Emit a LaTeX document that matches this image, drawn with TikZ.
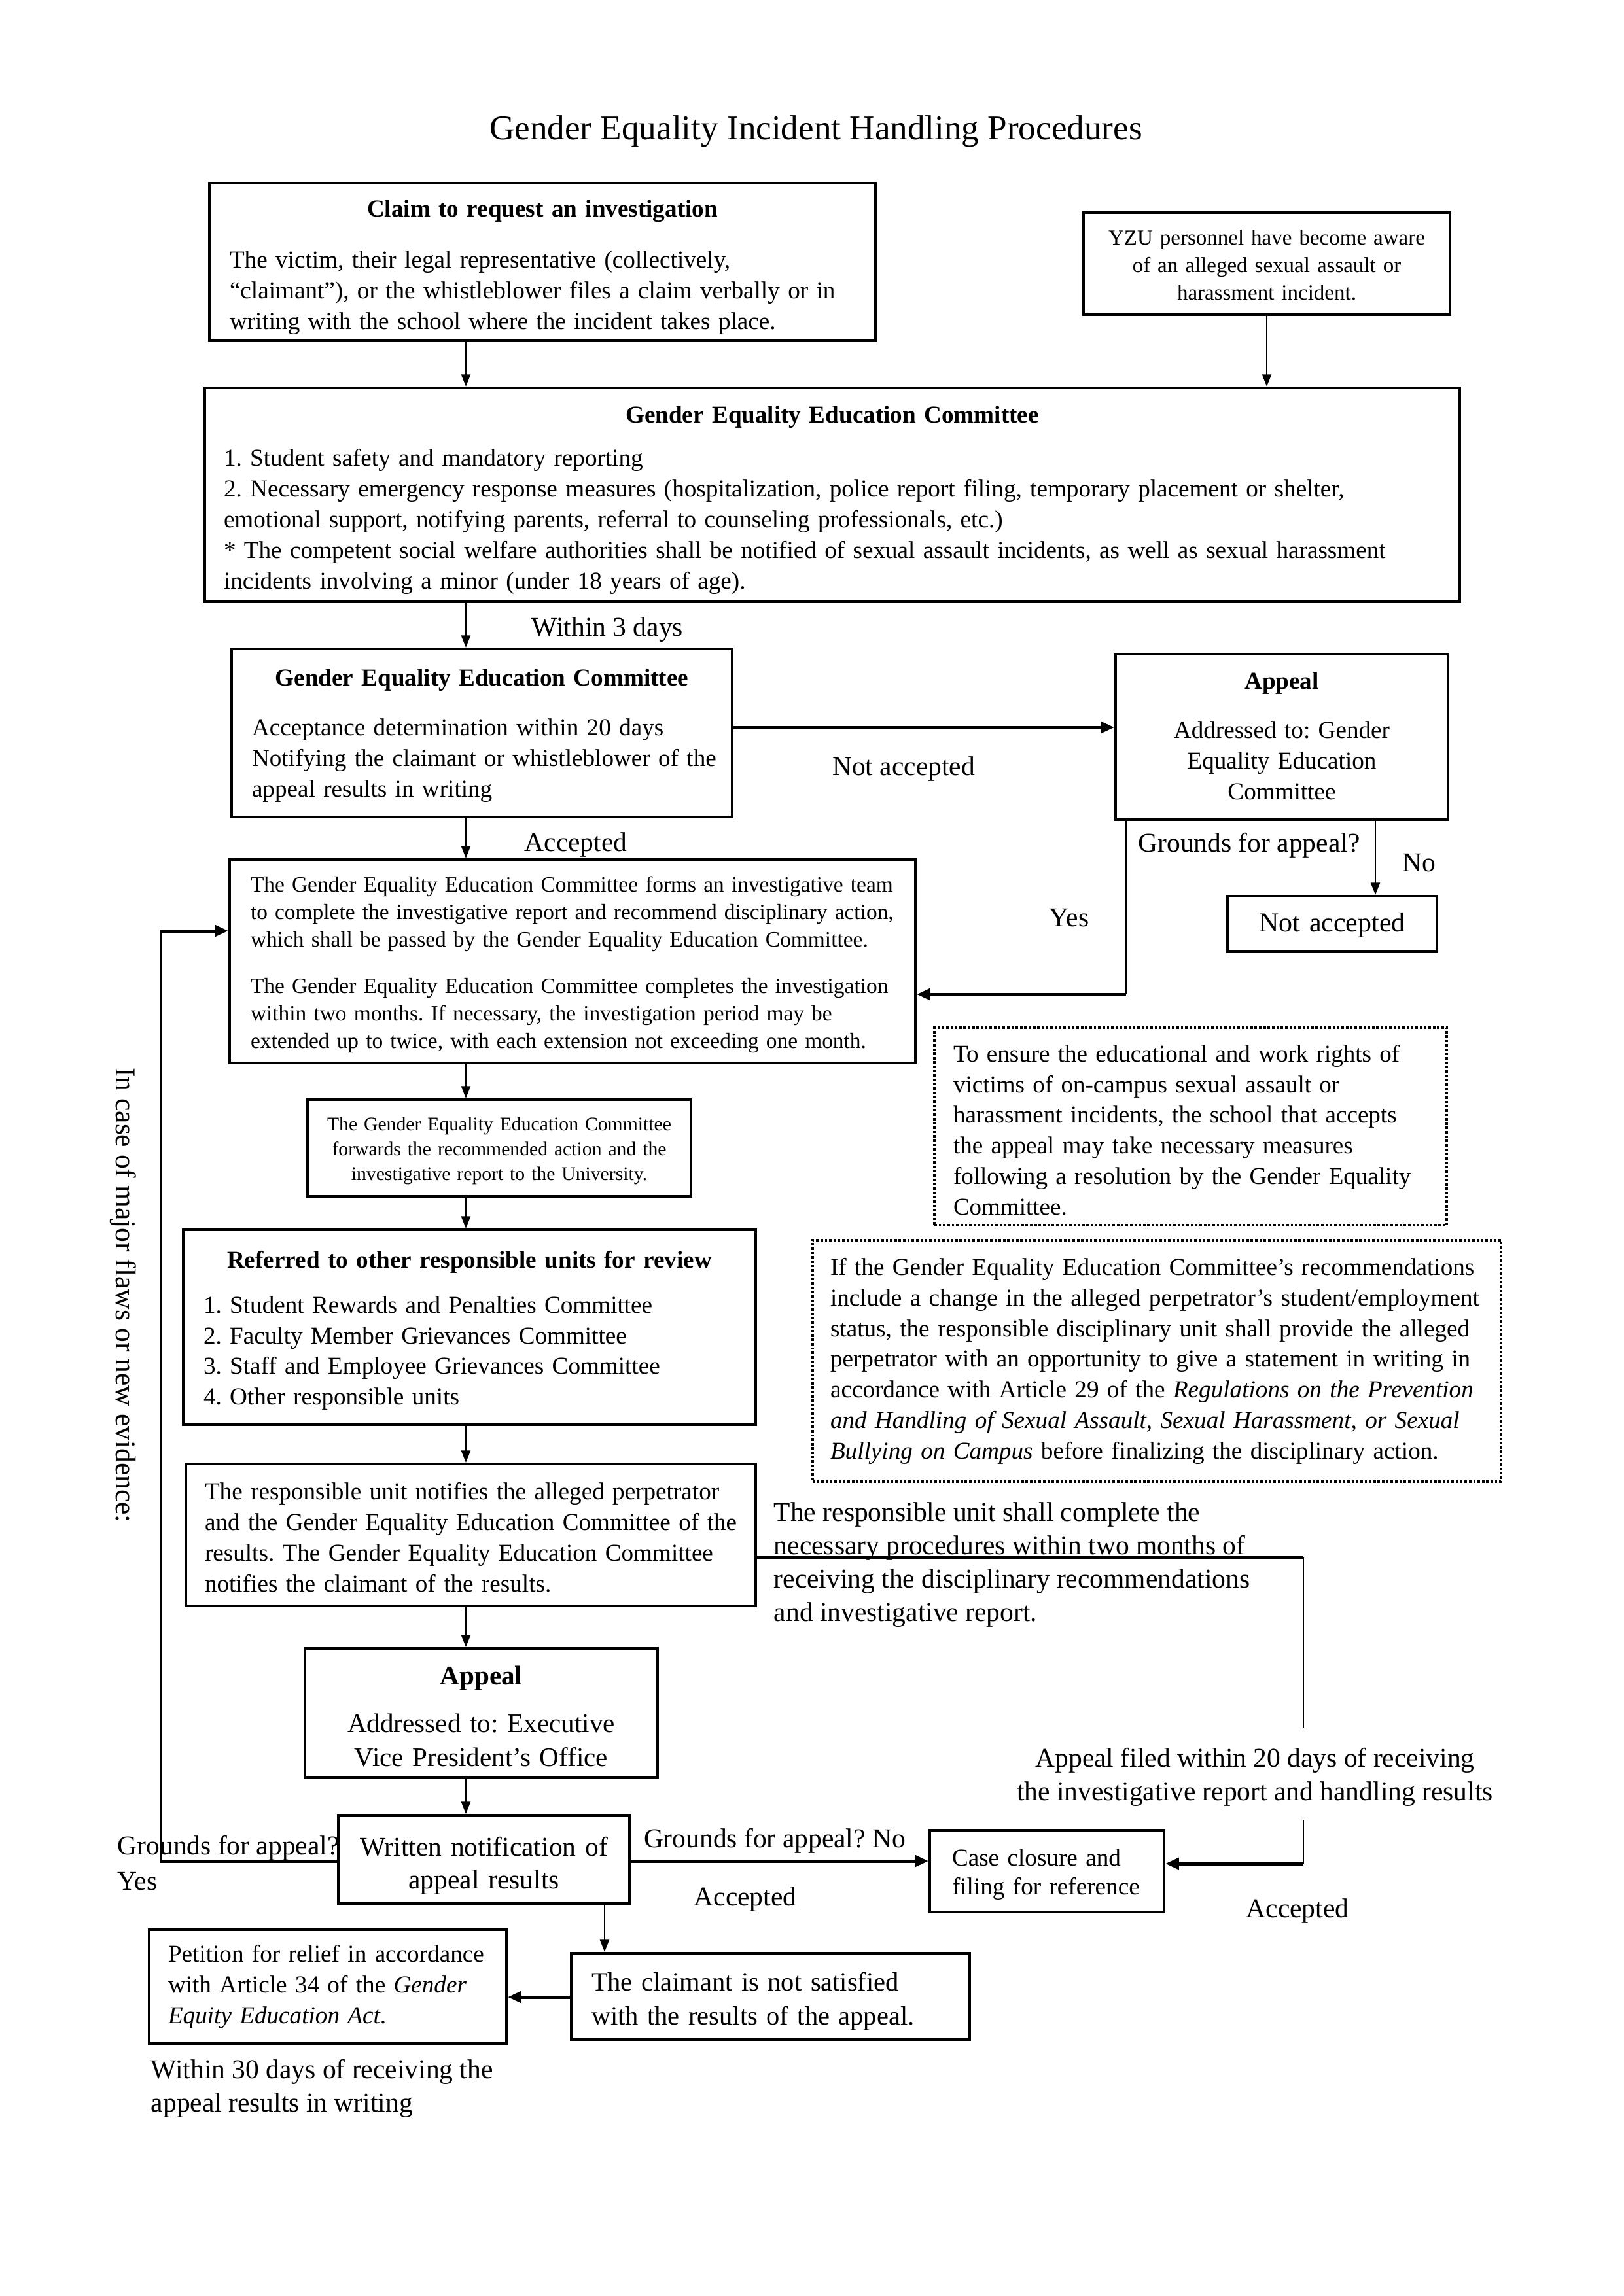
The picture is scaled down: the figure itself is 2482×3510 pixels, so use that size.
\documentclass[tikz,border=0pt]{standalone}
\usepackage{fontspec}
\setmainfont{Liberation Serif}
\usetikzlibrary{arrows.meta,calc}
\newcommand{\fs}[2]{\fontsize{#1}{#2}\selectfont}
\newcommand{\TL}[1]{\begin{tabular}[t]{@{}l@{}}#1\end{tabular}}
\newcommand{\TC}[1]{\makebox[\linewidth]{\begin{tabular}[t]{@{}c@{}}#1\end{tabular}}}
% name, x1, y1, x2, y2, indent, options, text, downward text shift (px)
\newcommand{\bnode}[9]{%
  \pgfmathsetmacro{\BXw}{(#4-#2)*0.2409}%
  \pgfmathsetmacro{\BXh}{(#5-#3)*0.2409}%
  \pgfmathsetmacro{\BXi}{#6*0.2409}%
  \pgfmathsetmacro{\BXt}{(#4-#2-2*#6)*0.2409}%
  \pgfmathsetmacro{\BXs}{#9*0.2409}%
  \node[#7, minimum width=\BXw pt, minimum height=\BXh pt, inner xsep=\BXi pt, inner ysep=0pt, text width=\BXt pt, align=left] (#1) at ({(#2+#4)/2},{(#3+#5)/2}) {\raisebox{-\BXs pt}[\height][\depth]{\parbox[t]{\BXt pt}{\raggedright #8}}};}
\begin{document}
\frenchspacing
\begin{tikzpicture}[x=0.2409pt, y=-0.2409pt,
  box/.style={draw, line width=1pt},
  dbox/.style={draw, line width=0.8pt, dash pattern=on 0.9pt off 0.7pt},
  arr/.style={-{Triangle[length=4.5pt,width=3.4pt]}, line width=0.6pt},
  tarr/.style={-{Triangle[length=5pt,width=4.2pt]}, line width=1.2pt},
  lbl/.style={inner sep=0pt, font=\fs{10}{12.3}}]
\fill[white] (0,0) rectangle (2482,3510);
\path[use as bounding box] (0,0) rectangle (2482,3510);

\node[inner sep=0pt, font=\fs{12.8}{15}] (title) at (1247,201) {Gender Equality Incident Handling Procedures};

\coordinate (axis) at (712,0);
\coordinate (noX) at (2102,0);
\coordinate (yesX) at (1721,0);
\coordinate (yesY) at (0,1520);
\coordinate (loopP) at (246,1423);
\coordinate (satX) at (924,0);
\coordinate (respY) at (0,2381);
\coordinate (respE) at (1992,2641);
\coordinate (afT) at (1992,2782);
\coordinate (afY) at (0,2849);

\bnode{claim}{320}{280}{1338}{521}{31}{box,font=\fs{8.95}{11.3}}{\makebox[\linewidth]{\textbf{Claim to request an investigation}}\\[7.5pt]
\TL{The victim, their legal representative (collectively,\\
“claimant”), or the whistleblower files a claim verbally or in\\
writing with the school where the incident takes place.}}{11}

\bnode{yzu}{1656}{325}{2216}{481}{10}{box,font=\fs{7.95}{10.1}}{\TC{YZU personnel have become aware\\ of an alleged sexual assault or\\ harassment incident.}}{5}

\bnode{geec}{313}{593}{2231}{920}{29}{box,font=\fs{8.95}{11.3}}{\makebox[\linewidth]{\textbf{Gender Equality Education Committee}}\\[4.8pt]
\TL{1. Student safety and mandatory reporting\\
2. Necessary emergency response measures (hospitalization, police report filing, temporary placement or shelter,\\
emotional support, notifying parents, referral to counseling professionals, etc.)\\
{}* The competent social welfare authorities shall be notified of sexual assault incidents, as well as sexual harassment\\
incidents involving a minor (under 18 years of age).}}{11}

\bnode{acc}{354}{992}{1119}{1249}{31}{box,font=\fs{8.95}{11.3}}{\makebox[\linewidth]{\textbf{Gender Equality Education Committee}}\\[7pt]
\TL{Acceptance determination within 20 days\\
Notifying the claimant or whistleblower of the\\
appeal results in writing}}{7}

\bnode{app1}{1705}{1000}{2213}{1253}{10}{box,font=\fs{8.95}{11.3}}{\TC{\textbf{Appeal}\\[7pt] Addressed to: Gender\\ Equality Education\\ Committee}}{2}

\bnode{na}{1876}{1370}{2196}{1455}{10}{box,font=\fs{10.1}{12.3}}{\TC{Not accepted}}{2}

\bnode{inv}{351}{1314}{1399}{1625}{32}{box,font=\fs{8.05}{10.2}}{\TL{The Gender Equality Education Committee forms an investigative team\\
to complete the investigative report and recommend disciplinary action,\\
which shall be passed by the Gender Equality Education Committee.\\[6.8pt]
The Gender Equality Education Committee completes the investigation\\
within two months. If necessary, the investigation period may be\\
extended up to twice, with each extension not exceeding one month.}}{5}

\bnode{fwd}{470}{1681}{1056}{1829}{8}{box,font=\fs{7.15}{9.2}}{\TC{The Gender Equality Education Committee\\ forwards the recommended action and the\\ investigative report to the University.}}{4}

\bnode{ref}{280}{1880}{1155}{2178}{31}{box,font=\fs{8.95}{11.3}}{\makebox[\linewidth]{\textbf{Referred to other responsible units for review}}\\[5.3pt]
\TL{1. Student Rewards and Penalties Committee\\
2. Faculty Member Grievances Committee\\
3. Staff and Employee Grievances Committee\\
4. Other responsible units}}{8}

\bnode{notif}{284}{2238}{1155}{2455}{29}{box,font=\fs{8.95}{11.3}}{\TL{The responsible unit notifies the alleged perpetrator\\
and the Gender Equality Education Committee of the\\
results. The Gender Equality Education Committee\\
notifies the claimant of the results.}}{7}

\bnode{app2}{466}{2520}{1005}{2717}{10}{box,font=\fs{9.9}{12.5}}{\TC{\textbf{Appeal}\\[5.3pt] Addressed to: Executive\\ Vice President’s Office}}{9}

\bnode{written}{517}{2775}{962}{2910}{10}{box,font=\fs{10}{12}}{\TC{Written notification of\\ appeal results}}{10}

\bnode{case}{1421}{2798}{1779}{2923}{34}{box,font=\fs{8.95}{10.8}}{\TL{Case closure and\\ filing for reference}}{5}

\bnode{notsat}{873}{2986}{1482}{3118}{31}{box,font=\fs{9.75}{12.5}}{\TL{The claimant is not satisfied\\ with the results of the appeal.}}{7}

\bnode{pet}{228}{2950}{774}{3124}{29}{box,font=\fs{8.95}{11.3}}{\TL{Petition for relief in accordance\\ with Article 34 of the \textit{Gender}\\ \textit{Equity Education Act}.}}{0}

\bnode{d1}{1428}{1571}{2211}{1873}{29}{dbox,font=\fs{8.92}{11.3}}{\TL{To ensure the educational and work rights of\\
victims of on-campus sexual assault or\\
harassment incidents, the school that accepts\\
the appeal may take necessary measures\\
following a resolution by the Gender Equality\\
Committee.}}{9}

\bnode{d2}{1242}{1896}{2294}{2265}{27}{dbox,font=\fs{8.95}{11.3}}{\TL{If the Gender Equality Education Committee’s recommendations\\
include a change in the alleged perpetrator’s student/employment\\
status, the responsible disciplinary unit shall provide the alleged\\
perpetrator with an opportunity to give a statement in writing in\\
accordance with Article 29 of the \textit{Regulations on the Prevention}\\
\textit{and Handling of Sexual Assault, Sexual Harassment, or Sexual}\\
\textit{Bullying on Campus} before finalizing the disciplinary action.}}{0}

% free labels
\node[lbl, anchor=west] (l3d) at (812,963) {Within 3 days};
\node[lbl] (lna) at (1381,1176) {Not accepted};
\node[lbl] (lacc1) at (880,1292) {Accepted};
\node[lbl] (lgr1) at (1909,1292) {Grounds for appeal?};
\node[lbl] (lno1) at (2169,1319) {No};
\node[lbl] (lyes1) at (1634,1403) {Yes};
\node[lbl, anchor=west, align=left, font=\fs{10}{12.3}] (lresp) at (1182,2392) {The responsible unit shall complete the\\ necessary procedures within two months of\\ receiving the disciplinary recommendations\\ and investigative report.};
\node[lbl, align=center] (lfiled) at (1918,2717) {Appeal filed within 20 days of receiving\\ the investigative report and handling results};
\node[lbl] (lacc3) at (1983,2921) {Accepted};
\node[lbl] (lgr2) at (1184,2814) {Grounds for appeal? No};
\node[lbl] (lacc2) at (1139,2903) {Accepted};
\node[lbl, anchor=west] (lgr3) at (179,2825) {Grounds for appeal?};
\node[lbl, anchor=west] (lyes2) at (179,2876) {Yes};
\node[lbl, anchor=west, align=left] (l30) at (230,3193) {Within 30 days of receiving the\\ appeal results in writing};
\node[lbl, rotate=-90, font=\fs{10.5}{12.6}] (lflaw) at (188,1980) {In case of major flaws or new evidence:};

% connectors
\draw[arr] (claim.south -| axis) -- (geec.north -| axis);
\draw[arr] (yzu.south) -- (geec.north -| yzu.south);
\draw[arr] (geec.south -| axis) -- (acc.north -| axis);
\draw[tarr] (acc.east |- 0,1112) -- (app1.west |- 0,1112);
\draw[arr] (app1.south -| noX) -- (na.north -| noX);
\draw[line width=0.7pt] (app1.south -| yesX) -- (yesX |- yesY);
\draw[tarr] (yesX |- yesY) -- (inv.east |- yesY);
\draw[arr] (acc.south -| axis) -- (inv.north -| axis);
\draw[arr] (inv.south -| axis) -- (fwd.north -| axis);
\draw[arr] (fwd.south -| axis) -- (ref.north -| axis);
\draw[arr] (ref.south -| axis) -- (notif.north -| axis);
\draw[arr] (notif.south -| axis) -- (app2.north -| axis);
\draw[arr] (app2.south -| axis) -- (written.north -| axis);
\draw[line width=1.3pt] (notif.east |- respY) -- (respE |- respY);
\draw[line width=0.7pt] (respE |- respY) -- (respE);
\draw[line width=0.7pt] (afT) -- (afT |- afY);
\draw[tarr] (afT |- afY) -- (case.east |- afY);
\draw[tarr] (written.east |- 0,2845) -- (case.west |- 0,2845);
\draw[tarr] (written.west |- 0,2845) -| (loopP) -- (inv.west |- loopP);
\draw[arr] (written.south -| satX) -- (notsat.north -| satX);
\draw[tarr] (notsat.west |- 0,3053) -- (pet.east |- 0,3053);
\end{tikzpicture}
\end{document}
